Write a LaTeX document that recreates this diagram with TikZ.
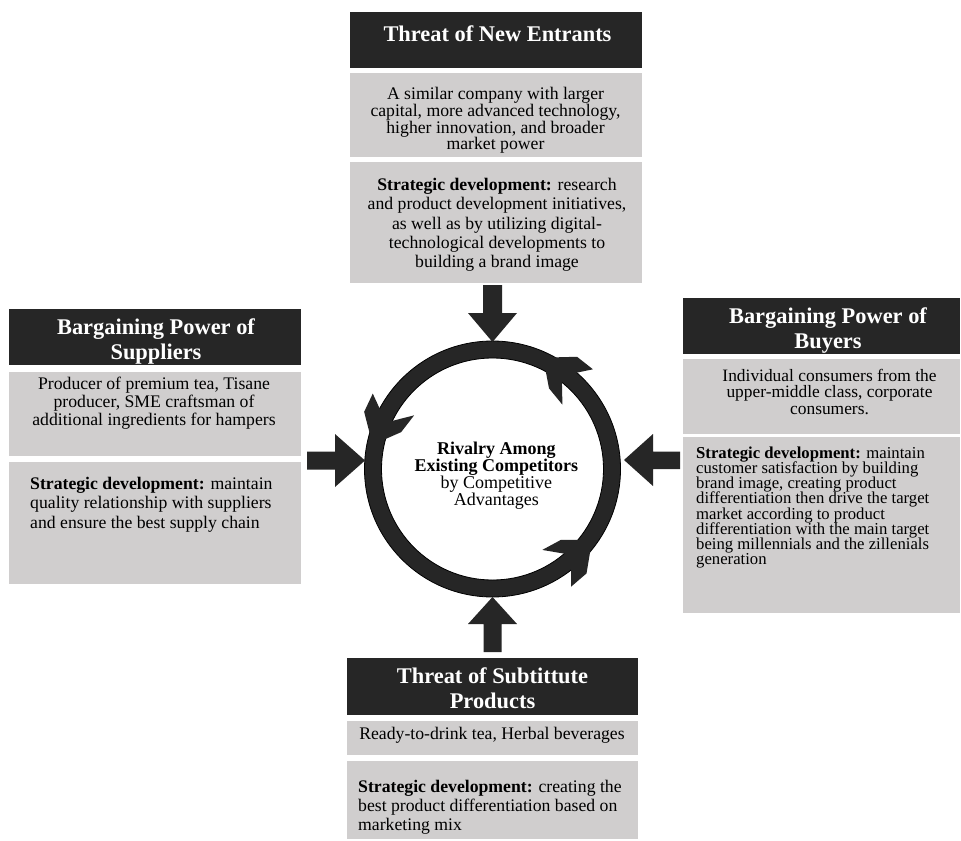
\documentclass[tikz,border=0pt]{standalone}
\usepackage{fontspec}
\setmainfont{Liberation Serif}
\usetikzlibrary{calc}
\lineskiplimit=-50pt
\definecolor{darkg}{HTML}{262626}
\definecolor{lightg}{HTML}{D0CECE}
\begin{document}
\begin{tikzpicture}[x=1bp,y=-1bp,
  hbox/.style={fill=darkg, inner sep=0, outer sep=0},
  lbox/.style={fill=lightg, inner sep=0, outer sep=0},
  hdrtxt/.style={text=white, inner sep=0, align=center, font=\bfseries\fontsize{22.4bp}{25bp}\selectfont},
  bodytxt/.style={text=black, inner sep=0, font=\fontsize{17.7bp}{#1}\selectfont},
  blockarrow/.style={fill=darkg}]
\useasboundingbox (0,0) rectangle (961,841);
\fill[white] (0,0) rectangle (961,841);

% ---------- boxes ----------
\node[hbox, minimum width=292bp, minimum height=56bp] (hT) at (496,40) {};
\node[lbox, minimum width=292bp, minimum height=84bp] (T1) at (496,115) {};
\node[lbox, minimum width=292bp, minimum height=121bp] (T2) at (496,222.5) {};

\node[hbox, minimum width=292bp, minimum height=56bp] (hL) at (155,337) {};
\node[lbox, minimum width=292bp, minimum height=84bp] (L1) at (155,414) {};
\node[lbox, minimum width=292bp, minimum height=122bp] (L2) at (155,523) {};

\node[hbox, minimum width=277bp, minimum height=56bp] (hR) at (821.5,326) {};
\node[lbox, minimum width=277bp, minimum height=75bp] (R1) at (821.5,396.5) {};
\node[lbox, minimum width=277bp, minimum height=176bp] (R2) at (821.5,525) {};

\node[hbox, minimum width=291bp, minimum height=57bp] (hB) at (492.5,686.5) {};
\node[lbox, minimum width=291bp, minimum height=34bp] (B1) at (492.5,738) {};
\node[lbox, minimum width=291bp, minimum height=78bp] (B2) at (492.5,800) {};

% ---------- texts ----------
\node[hdrtxt] (hTt) at (497.5,34.2) {Threat of New Entrants};
\node[bodytxt=16.9bp, align=center] (T1t) at (495.5,120.3)
  {A similar company with larger\\capital, more advanced technology,\\higher innovation, and broader\\market power};
\node[bodytxt=19.2bp, align=center] (T2t) at (497,224.8)
  {\textbf{Strategic development:} research\\and product development initiatives,\\as well as by utilizing digital-\\technological developments to\\building a brand image};

\node[hdrtxt] (hLt) at (156,341.5) {Bargaining Power of\\Suppliers};
\node[bodytxt=18.3bp, align=center] (L1t) at (154,403.2)
  {Producer of premium tea, Tisane\\producer, SME craftsman of\\additional ingredients for hampers};
\node[bodytxt=19.5bp, align=left, anchor=west] (L2t) at (30,504.3)
  {\textbf{Strategic development:} maintain\\quality relationship with suppliers\\and ensure the best supply chain};

\node[hdrtxt] (hRt) at (828,330.3) {Bargaining Power of\\Buyers};
\node[text=black, inner sep=0, font=\fontsize{17.4bp}{16.4bp}\selectfont, align=center] (R1t) at (829.5,391.8)
  {Individual consumers from the\\upper-middle class, corporate\\consumers.};
\node[text=black, inner sep=0, font=\fontsize{16.7bp}{15.1bp}\selectfont, align=left, anchor=west] (R2t) at (696,507.5)
  {\textbf{Strategic development:} maintain\\customer satisfaction by building\\brand image, creating product\\differentiation then drive the target\\market according to product\\differentiation with the main target\\being millennials and the zillenials\\generation};

\node[hdrtxt] (hBt) at (492.5,688.6) {Threat of Subtittute\\Products};
\node[bodytxt=19bp, align=center] (B1t) at (492,734.8) {Ready-to-drink tea, Herbal beverages};
\node[bodytxt=19.2bp, align=left, anchor=west] (B2t) at (358,807.2)
  {\textbf{Strategic development:} creating the\\best product differentiation based on\\marketing mix};

% ---------- central ring ----------
\coordinate (C) at (492.5,469);
\draw[darkg, line width=17bp] (C) circle[radius=119.5];
\draw[black, line width=0.8bp] (C) circle[radius=128];
\draw[black, line width=0.8bp] (C) circle[radius=111];
\foreach \a in {61,164,320}{
  \fill[darkg] ($(C)+({-(\a+0.5)}:127)$) -- ($(C)+({-(\a-8)}:140.5)$) -- ($(C)+({-(\a-16.2)}:141.5)$)
    -- ($(C)+({-(\a-12)}:127.5)$) -- ($(C)+({-(\a-9.5)}:111.5)$) -- ($(C)+({-(\a-18.4)}:95)$)
    -- ($(C)+({-(\a-6)}:98.5)$) -- ($(C)+({-(\a+0.5)}:111.5)$) -- cycle;
}
\node[text=black, inner sep=0, align=center, font=\fontsize{18bp}{17bp}\selectfont] (Ct) at (496.3,476)
  {\textbf{Rivalry Among}\\\textbf{Existing Competitors}\\by Competitive\\Advantages};

% ---------- block arrows ----------
\fill[blockarrow] (483,285) -- (502,285) -- (502,313) -- (517,313) -- (492.5,342) -- (468,313) -- (483,313) -- cycle;
\fill[blockarrow] (492.5,597) -- (517,624) -- (501.5,624) -- (501.5,652) -- (483.5,652) -- (483.5,624) -- (468,624) -- cycle;
\fill[blockarrow] (307,451.5) -- (335,451.5) -- (335,434) -- (365,460.5) -- (335,487) -- (335,469.5) -- (307,469.5) -- cycle;
\fill[blockarrow] (680,451.5) -- (653,451.5) -- (653,434) -- (624,460) -- (653,486) -- (653,469) -- (680,469) -- cycle;
\end{tikzpicture}
\end{document}
